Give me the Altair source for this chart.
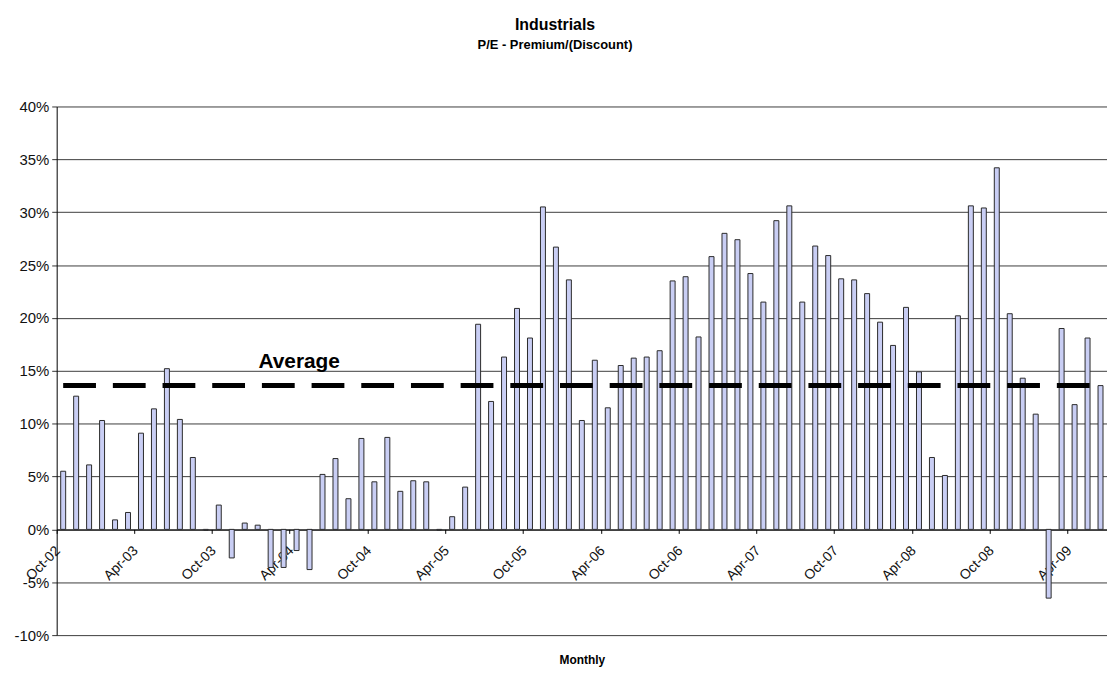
import altair as alt
import pandas as pd

months = [
    "Oct-02", "Nov-02", "Dec-02",
    "Jan-03", "Feb-03", "Mar-03", "Apr-03", "May-03", "Jun-03",
    "Jul-03", "Aug-03", "Sep-03", "Oct-03", "Nov-03", "Dec-03",
    "Jan-04", "Feb-04", "Mar-04", "Apr-04", "May-04", "Jun-04",
    "Jul-04", "Aug-04", "Sep-04", "Oct-04", "Nov-04", "Dec-04",
    "Jan-05", "Feb-05", "Mar-05", "Apr-05", "May-05", "Jun-05",
    "Jul-05", "Aug-05", "Sep-05", "Oct-05", "Nov-05", "Dec-05",
    "Jan-06", "Feb-06", "Mar-06", "Apr-06", "May-06", "Jun-06",
    "Jul-06", "Aug-06", "Sep-06", "Oct-06", "Nov-06", "Dec-06",
    "Jan-07", "Feb-07", "Mar-07", "Apr-07", "May-07", "Jun-07",
    "Jul-07", "Aug-07", "Sep-07", "Oct-07", "Nov-07", "Dec-07",
    "Jan-08", "Feb-08", "Mar-08", "Apr-08", "May-08", "Jun-08",
    "Jul-08", "Aug-08", "Sep-08", "Oct-08", "Nov-08", "Dec-08",
    "Jan-09", "Feb-09", "Mar-09", "Apr-09", "May-09", "Jun-09",
]

premium = [
    5.5, 12.6, 6.1,
    10.3, 0.9, 1.6, 9.1, 11.4, 15.2,
    10.4, 6.8, -0.1, 2.3, -2.7, 0.6,
    0.4, -3.6, -3.6, -2.0, -3.8, 5.2,
    6.7, 2.9, 8.6, 4.5, 8.7, 3.6,
    4.6, 4.5, -0.1, 1.2, 4.0, 19.4,
    12.1, 16.3, 20.9, 18.1, 30.5, 26.7,
    23.6, 10.3, 16.0, 11.5, 15.5, 16.2,
    16.3, 16.9, 23.5, 23.9, 18.2, 25.8,
    28.0, 27.4, 24.2, 21.5, 29.2, 30.6,
    21.5, 26.8, 25.9, 23.7, 23.6, 22.3,
    19.6, 17.4, 21.0, 14.9, 6.8, 5.1,
    20.2, 30.6, 30.4, 34.2, 20.4, 14.3,
    10.9, -6.5, 19.0, 11.8, 18.1, 13.6,
]

average_value = 13.6

tick_labels = ["Oct-02", "Apr-03", "Oct-03", "Apr-04", "Oct-04", "Apr-05",
               "Oct-05", "Apr-06", "Oct-06", "Apr-07", "Oct-07", "Apr-08",
               "Oct-08", "Apr-09"]
y_ticks = [-10, -5, 0, 5, 10, 15, 20, 25, 30, 35, 40]

df = pd.DataFrame({"month": months, "value": premium,
                   "average": [average_value] * len(months)})

W, H = 1057, 532
FONT = "Liberation Sans"

x_enc = alt.X(
    "month:N", sort=months,
    scale=alt.Scale(paddingInner=0, paddingOuter=0),
    axis=alt.Axis(
        values=tick_labels, bandPosition=0, labelAngle=-45,
        labelAlign="right", labelBaseline="middle", labelPadding=15,
        labelOffset=-5,
        tickSize=4, tickColor="black", domainColor="black",
        labelFont=FONT, labelFontSize=14, labelColor="#111",
        labelOverlap=False, labelBound=False, offset=-H / 5,
        grid=False, title=None,
    ),
)

y_scale = alt.Scale(domain=[-10, 40], nice=False, zero=False)

bars = alt.Chart(df).mark_bar(
    width=5, fill="#c9cef4", stroke="#2a2a2a", strokeWidth=1
).encode(
    x=x_enc,
    y=alt.Y(
        "value:Q", scale=y_scale,
        axis=alt.Axis(
            values=y_ticks, labelExpr="datum.value + '%'",
            tickSize=5, tickColor="#333", domainColor="black",
            gridColor="#3c3c3c", gridWidth=1, labelPadding=3,
            labelFont=FONT, labelFontSize=15, labelColor="#111",
            title=None,
        ),
    ),
)

avg_line = alt.Chart(df).mark_line(
    color="black", strokeWidth=5, strokeDash=[33, 17]
).encode(
    x=alt.X("month:N", sort=months),
    y=alt.Y("average:Q"),
)

avg_label = alt.Chart(pd.DataFrame({"t": ["Average"]})).mark_text(
    font=FONT, fontSize=21, fontWeight="bold", align="left",
    baseline="alphabetic", color="black"
).encode(text="t:N", x=alt.value(203), y=alt.datum(15.3))

monthly_label = alt.Chart(pd.DataFrame({"t": ["Monthly"]})).mark_text(
    font=FONT, fontSize=12, fontWeight="bold", align="center",
    baseline="middle", color="black"
).encode(text="t:N", x=alt.value(529), y=alt.value(H + 25))

chart = alt.layer(bars, avg_line, avg_label, monthly_label).properties(
    width=W, height=H,
    autosize="none",
    padding={"left": 49, "top": 97, "right": 0, "bottom": 34},
    title=alt.TitleParams(
        text="Industrials", subtitle="P/E - Premium/(Discount)",
        font=FONT, fontSize=16, fontWeight="bold", color="black",
        subtitleFont=FONT, subtitleFontSize=13, subtitleFontWeight="bold",
        subtitleColor="black", subtitlePadding=6,
        anchor="middle", frame="group", dx=-27, offset=48,
    ),
).configure_view(stroke=None)

chart.save("out.html", embed_options={"renderer": "svg", "actions": False})
